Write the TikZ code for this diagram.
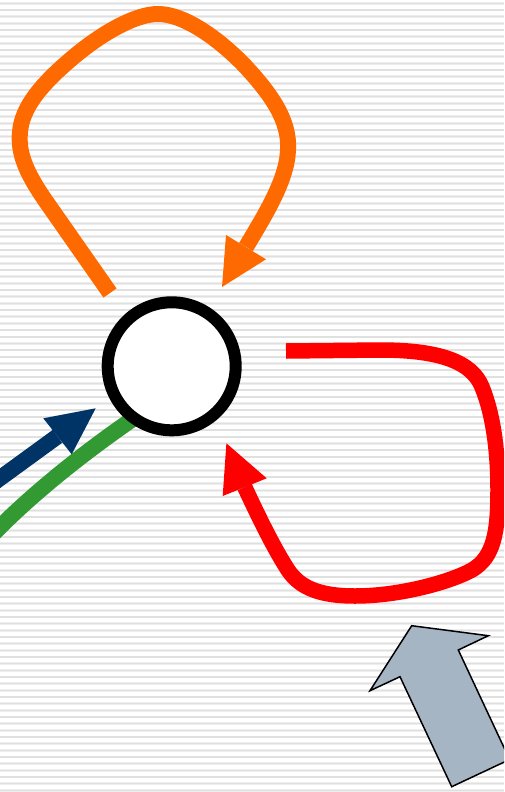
\documentclass[tikz,border=0pt]{standalone}
\usetikzlibrary{calc}
\definecolor{stripegray}{RGB}{224,224,224}
\definecolor{stripeedge}{RGB}{238,238,238}
\definecolor{loorange}{RGB}{255,106,0}
\definecolor{lored}{RGB}{255,0,0}
\definecolor{lonavy}{RGB}{0,51,102}
\definecolor{logreen}{RGB}{51,153,51}
\definecolor{lobluegray}{RGB}{166,181,196}
\tikzset{
  stripe/.style={draw=stripegray,line width=1.4pt},
  stripewide/.style={draw=stripeedge,line width=2.6pt},
  thickloop/.style={line width=16pt,line cap=butt,line join=round},
  hubnode/.style={circle,draw=black,fill=white,line width=12pt,minimum size=128pt,inner sep=0pt},
}
\begin{document}
\begin{tikzpicture}[x=1pt,y=-1pt]
\useasboundingbox (0,0) rectangle (504,792);
\clip (0,0) rectangle (504,792);
\fill[white] (0,0) rectangle (504,792);
\foreach \i in {0,...,118} {
  \pgfmathsetmacro{\yy}{3.3+6.67*\i}
  \draw[stripewide] (0,\yy) -- (504,\yy);
  \draw[stripe] (0,\yy) -- (504,\yy);
}
% coordinates
\coordinate (oStart) at (110,293);
\coordinate (oBase) at (246,247);
\coordinate (oTip) at (222,287);
\coordinate (oB1) at (226,235);
\coordinate (oB2) at (266,259.3);
\coordinate (rStart) at (286,351);
\coordinate (rBase) at (244.7,487);
\coordinate (rTip) at (226.4,443.3);
\coordinate (rB1) at (222.7,496);
\coordinate (rB2) at (266.7,478.3);
\coordinate (nStart) at (-10,485.5);
\coordinate (nBase) at (57.5,436.3);
\coordinate (nTip) at (95.7,408.3);
\coordinate (nB1) at (43.3,418.3);
\coordinate (nB2) at (71.7,454.3);
\coordinate (gStart) at (-8,535);
\coordinate (gEnd) at (140,414);
% green line (under circle)
\draw[thickloop,draw=logreen] (gStart) .. controls (30,496) and (80,455) .. (gEnd);
% hub circle
\node[hubnode] (hub) at (171.7,366.3) {};
% orange loop
\draw[thickloop,draw=loorange] (oStart) -- (45,200)
  .. controls (25,171) and (18,152) .. (20,132)
  .. controls (22,107) and (42,84) .. (70,60)
  .. controls (100,34) and (135,14) .. (158,14)
  .. controls (185,14) and (220,40) .. (245,66)
  .. controls (270,93) and (290,120) .. (288,150)
  .. controls (287,180) and (265,215) .. (oBase);
\fill[loorange] (oTip) -- (oB1) -- (oB2) -- cycle;
% red loop
\draw[thickloop,draw=lored,line width=15.5pt] (rStart) -- (380,350)
  .. controls (440,350) and (472,362) .. (482,387)
  .. controls (493,414) and (498,450) .. (498,490)
  .. controls (498,532) and (494,557) .. (472,570)
  .. controls (450,582) and (400,596) .. (355,596)
  .. controls (320,596) and (300,588) .. (288,570)
  .. controls (275,550) and (260,520) .. (rBase);
\fill[lored] (rTip) -- (rB1) -- (rB2) -- cycle;
% navy arrow
\draw[thickloop,draw=lonavy] (nStart) -- (nBase);
\fill[lonavy] (nTip) -- (nB1) -- (nB2) -- cycle;
% block arrow
\draw[fill=lobluegray,draw=black,line width=1.5pt,line join=miter]
  (411.7,625.7) -- (488.3,635.7) -- (458.3,650) -- (509.6,759.5)
  -- (451.7,786.7) -- (400,676.7) -- (370,690.7) -- cycle;
\end{tikzpicture}
\end{document}
